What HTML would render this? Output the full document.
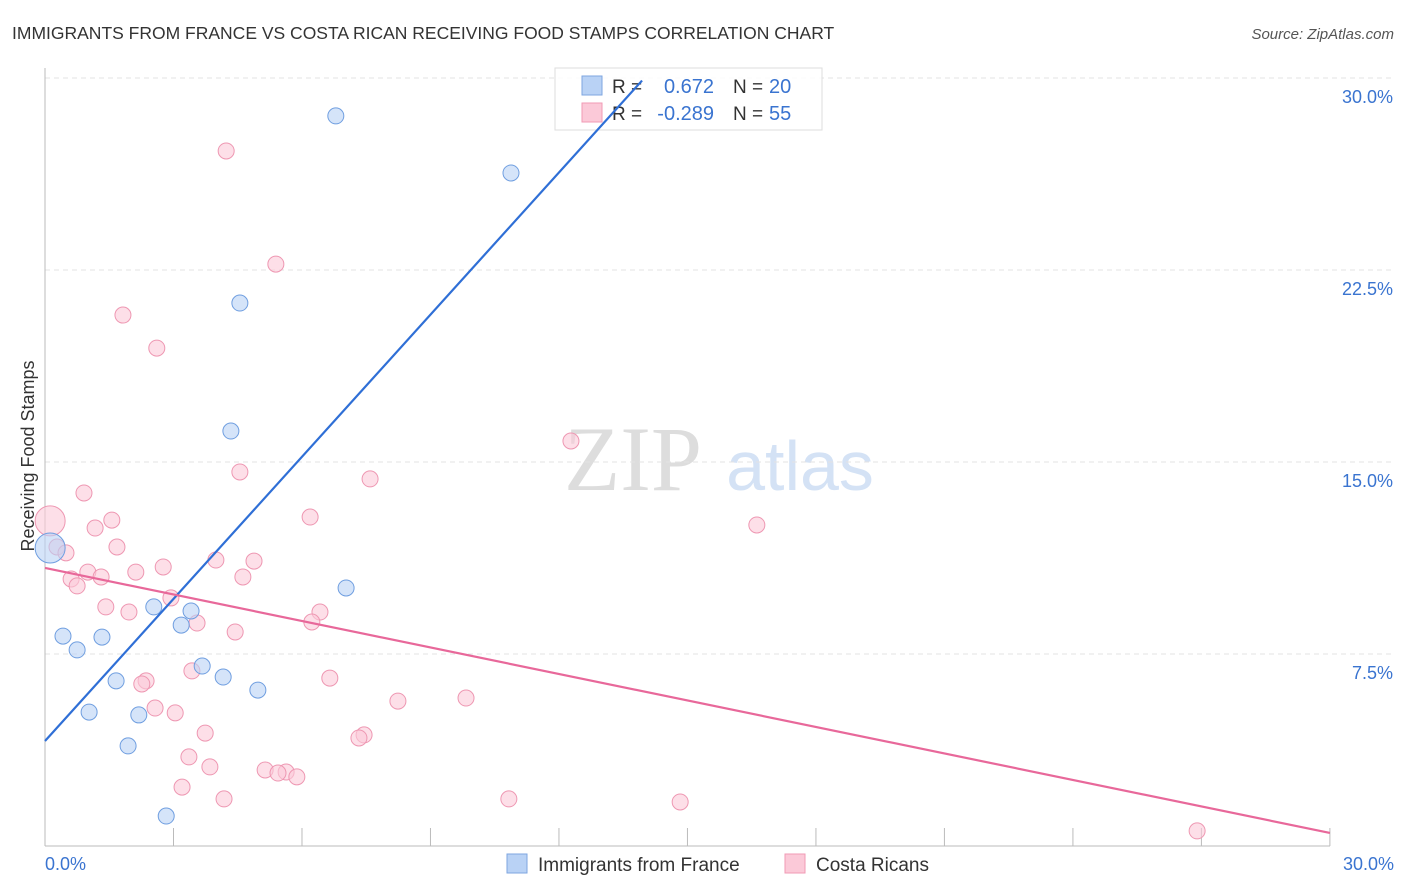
<!DOCTYPE html>
<html><head><meta charset="utf-8"><style>
body{margin:0;background:#fff;font-family:"Liberation Sans",sans-serif}
svg{display:block}
</style></head><body>
<svg id="c" width="1406" height="892">
<text x="12" y="39" font-size="17.5" fill="#333">IMMIGRANTS FROM FRANCE VS COSTA RICAN RECEIVING FOOD STAMPS CORRELATION CHART</text>
<text x="1394" y="39" font-size="15" fill="#555" font-style="italic" text-anchor="end">Source: ZipAtlas.com</text>
<text x="34" y="456" font-size="18" fill="#333" text-anchor="middle" transform="rotate(-90 34 456)">Receiving Food Stamps</text>
<text x="633" y="490" font-size="92" fill="#ddd" font-family="Liberation Serif,serif" text-anchor="middle">ZIP</text>
<text x="800" y="490" font-size="70" fill="#d4e2f5" text-anchor="middle">atlas</text>
<g id="grid"></g>
<g>
<rect x="555" y="68" width="267" height="62" fill="#fff" fill-opacity="0.85" stroke="#ddd"/>
<rect x="582" y="76" width="20" height="19" fill="#b9d2f5" stroke="#7ea6e0"/>
<rect x="582" y="103" width="20" height="19" fill="#fbc9d8" stroke="#f09ab5"/>
<text x="612" y="93" font-size="19" fill="#333">R = </text><text x="714" y="93" font-size="20" fill="#3a74d0" text-anchor="end">0.672</text>
<text x="733" y="93" font-size="19" fill="#333">N = </text><text x="769" y="93" font-size="20" fill="#3a74d0">20</text>
<text x="612" y="120" font-size="19" fill="#333">R = </text><text x="714" y="120" font-size="20" fill="#3a74d0" text-anchor="end">-0.289</text>
<text x="733" y="120" font-size="19" fill="#333">N = </text><text x="769" y="120" font-size="20" fill="#3a74d0">55</text>
</g>
<g id="marks"></g>
<g>
<rect x="507" y="854" width="20" height="19" fill="#b9d2f5" stroke="#7ea6e0"/>
<text x="538" y="871" font-size="19" fill="#333">Immigrants from France</text>
<rect x="785" y="854" width="20" height="19" fill="#fbc9d8" stroke="#f09ab5"/>
<text x="816" y="871" font-size="19" fill="#333">Costa Ricans</text>
</g>
<text x="45" y="870" font-size="18" fill="#3a74d0">0.0%</text>
<text x="1394" y="870" font-size="18" fill="#3a74d0" text-anchor="end">30.0%</text>
</svg>
<script>
const blueX=[6.79,10.88,4.55,4.34,7.03,2.54,3.41,3.18,0.42,1.33,0.75,3.67,4.16,1.66,4.97,1.03,2.19,1.94,2.83,0.12];
const blueY=[28.52,26.29,21.21,16.21,10.08,9.34,9.18,8.63,8.20,8.16,7.66,7.03,6.60,6.45,6.09,5.23,5.12,3.91,1.17,11.64];
const pinkX=[4.23,5.39,1.82,2.61,12.28,4.55,7.59,0.91,6.19,16.62,1.56,1.17,0.12,1.68,0.28,0.49,3.99,4.88,2.76,1.00,2.12,4.62,1.31,0.61,0.75,2.94,1.42,1.96,6.42,6.23,3.55,4.44,3.43,6.65,2.36,2.26,8.24,9.83,2.57,3.04,3.74,7.45,7.33,3.36,3.85,5.14,5.63,5.44,5.88,3.20,4.18,10.83,14.83,26.90];
const pinkY=[27.15,22.73,20.74,19.45,15.82,14.61,14.34,13.79,12.85,12.54,12.73,12.42,12.70,11.68,11.68,11.45,11.17,11.13,10.90,10.70,10.70,10.51,10.51,10.43,10.16,9.69,9.34,9.14,9.14,8.75,8.71,8.36,6.84,6.56,6.45,6.33,5.66,5.78,5.39,5.20,4.41,4.34,4.22,3.48,3.09,2.97,2.89,2.85,2.70,2.30,1.84,1.84,1.72,0.59];
const yTicks=[7.5,15,22.5,30];
const yTickLabels=["7.5%","15.0%","22.5%","30.0%"];
const blueLine=[0,4.1,13.94,29.9];
const pinkLine=[0,10.86,30,0.51];
const NS="http://www.w3.org/2000/svg";
const sx=v=>45+v*42.83, sy=v=>846-v*25.6;
function el(p,t,a){const e=document.createElementNS(NS,t);for(const k in a)e.setAttribute(k,a[k]);p.appendChild(e);return e;}
const g=document.getElementById('grid'), m=document.getElementById('marks');
yTicks.forEach((t,i)=>{
 const l=el(g,'line',{x1:45,x2:1394,y1:sy(t),y2:sy(t),stroke:'#e3e3e3','stroke-dasharray':'5,4'});
 
 
 const tx=el(g,'text',{x:1393,y:sy(t)+25,'font-size':18,fill:'#3a74d0','text-anchor':'end'});
 tx.textContent=yTickLabels[i];
 
 
});
el(g,'line',{x1:45,x2:45,y1:68,y2:846,stroke:'#bbb'});
el(g,'line',{x1:45,x2:1330,y1:846,y2:846,stroke:'#bbb'});
for(let i=1;i<=10;i++){const t=el(g,'line',{x1:sx(i*3),x2:sx(i*3),y1:828,y2:846,stroke:'#bbb'});
 
 }
function dots(X,Y,fill,stroke,name,big){X.forEach((x,i)=>{
 const c=el(m,'circle',{cx:sx(x),cy:sy(Y[i]),r:i===big?15:8,fill:fill,'fill-opacity':0.6,stroke:stroke,'stroke-width':1});
 
 });}
dots(pinkX,pinkY,'#fbc9d8','#ee97b2','costa-rican-point',12);
dots(blueX,blueY,'#b9d2f5','#6f9ee0','france-point',19);
const bl=el(m,'line',{x1:sx(blueLine[0]),y1:sy(blueLine[1]),x2:sx(blueLine[2]),y2:sy(blueLine[3]),stroke:'#2f6fd6','stroke-width':2.2});


const pl=el(m,'line',{x1:sx(pinkLine[0]),y1:sy(pinkLine[1]),x2:sx(pinkLine[2]),y2:sy(pinkLine[3]),stroke:'#e8689a','stroke-width':2.2});


</script>
</body></html>
